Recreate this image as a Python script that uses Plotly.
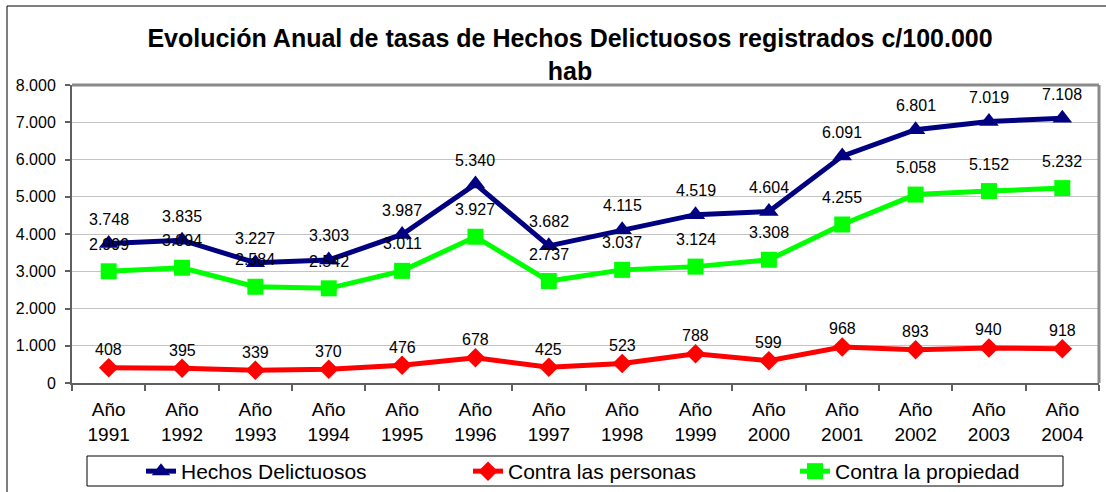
import plotly.graph_objects as go

# Annual rates of recorded offences per 100,000 inhabitants
years = ["1991", "1992", "1993", "1994", "1995", "1996", "1997",
         "1998", "1999", "2000", "2001", "2002", "2003", "2004"]
hechos = [3748, 3835, 3227, 3303, 3987, 5340, 3682, 4115, 4519, 4604, 6091, 6801, 7019, 7108]
personas = [408, 395, 339, 370, 476, 678, 425, 523, 788, 599, 968, 893, 940, 918]
propiedad = [2999, 3094, 2584, 2542, 3011, 3927, 2737, 3037, 3124, 3308, 4255, 5058, 5152, 5232]

categories = ["Año<br>" + y for y in years]

FONT = "Liberation Sans, Arial, sans-serif"
W, H = 1106, 492
L, R, T, B = 72, 7, 85, 109
PW, PH = W - L - R, H - T - B


def px_x(px):
    return (px - L) / PW


def px_y(py):
    return (H - B - py) / PH


def fmt(v):
    return f"{v:,}".replace(",", ".")


# name, values, colour, marker symbol, marker size, label lift (px), legend entry width
series = [
    ("Hechos Delictuosos", hechos, "#000080", "triangle-up", 17, 24, 282),
    ("Contra las personas", personas, "#FF0000", "diamond", 15, 18, 282),
    ("Contra la propiedad", propiedad, "#00FF00", "square", 16, 27, 200),
]

fig = go.Figure()
annotations = []
for name, vals, color, symbol, msize, lift, lw in series:
    fig.add_trace(go.Scatter(
        x=categories, y=vals, name=name, mode="lines+markers",
        line=dict(color=color, width=5),
        marker=dict(symbol=symbol, size=msize, color=color),
        legendwidth=lw, hoverinfo="skip",
    ))
    for c, v in zip(categories, vals):
        annotations.append(dict(
            x=c, y=v, xref="x", yref="y", text=fmt(v), showarrow=False,
            yshift=lift, font=dict(family=FONT, size=16, color="#000000"),
        ))

shapes = [
    # outer chart frame
    dict(type="rect", xref="paper", yref="paper",
         x0=px_x(7), x1=px_x(1112), y0=px_y(500), y1=px_y(6),
         line=dict(color="#000000", width=1), layer="below"),
    # plot area frame, top and right sides
    dict(type="line", xref="paper", yref="paper", x0=0, x1=1, y0=1, y1=1,
         line=dict(color="#8a8a8a", width=3)),
    dict(type="line", xref="paper", yref="paper", x0=1, x1=1, y0=0, y1=1,
         line=dict(color="#8a8a8a", width=3)),
    # legend frame
    dict(type="rect", xref="paper", yref="paper",
         x0=px_x(87), x1=px_x(1063), y0=px_y(486), y1=px_y(456),
         line=dict(color="#000000", width=1)),
]

fig.update_layout(
    width=W, height=H,
    margin=dict(l=L, r=R, t=T, b=B, pad=0, autoexpand=False),
    paper_bgcolor="#ffffff", plot_bgcolor="#ffffff",
    separators=",.",
    font=dict(family=FONT, size=16, color="#000000"),
    title=dict(
        text="Evolución Anual de tasas de Hechos Delictuosos registrados c/100.000<br>hab",
        x=570 / W, xanchor="center", xref="container",
        y=1 - 47 / H, yanchor="top", yref="container",
        font=dict(family=FONT, size=25, color="#000000", weight="bold"),
    ),
    xaxis=dict(
        type="category", categoryorder="array", categoryarray=categories,
        tickson="boundaries", ticks="outside", ticklen=6, tickwidth=1.5,
        tickcolor="#606060", showline=True, linecolor="#606060", linewidth=2,
        showgrid=False, tickfont=dict(family=FONT, size=19),
        ticklabelstandoff=8, range=[-0.5, len(categories) - 0.5],
    ),
    yaxis=dict(
        range=[0, 8000], dtick=1000, tickformat=",d",
        ticks="outside", ticklen=5, tickwidth=1.5, tickcolor="#606060",
        showline=True, linecolor="#606060", linewidth=2,
        showgrid=True, gridcolor="#c4c4c4", gridwidth=1,
        zeroline=False, tickfont=dict(family=FONT, size=16),
        ticklabelstandoff=6,
    ),
    legend=dict(
        orientation="h", x=px_x(141), xanchor="left",
        y=px_y(451), yanchor="top",
        entrywidthmode="pixels",
        font=dict(family=FONT, size=21), borderwidth=0,
        bgcolor="rgba(0,0,0,0)",
    ),
    annotations=annotations,
    shapes=shapes,
    showlegend=True,
)

fig.write_html("out.html")
